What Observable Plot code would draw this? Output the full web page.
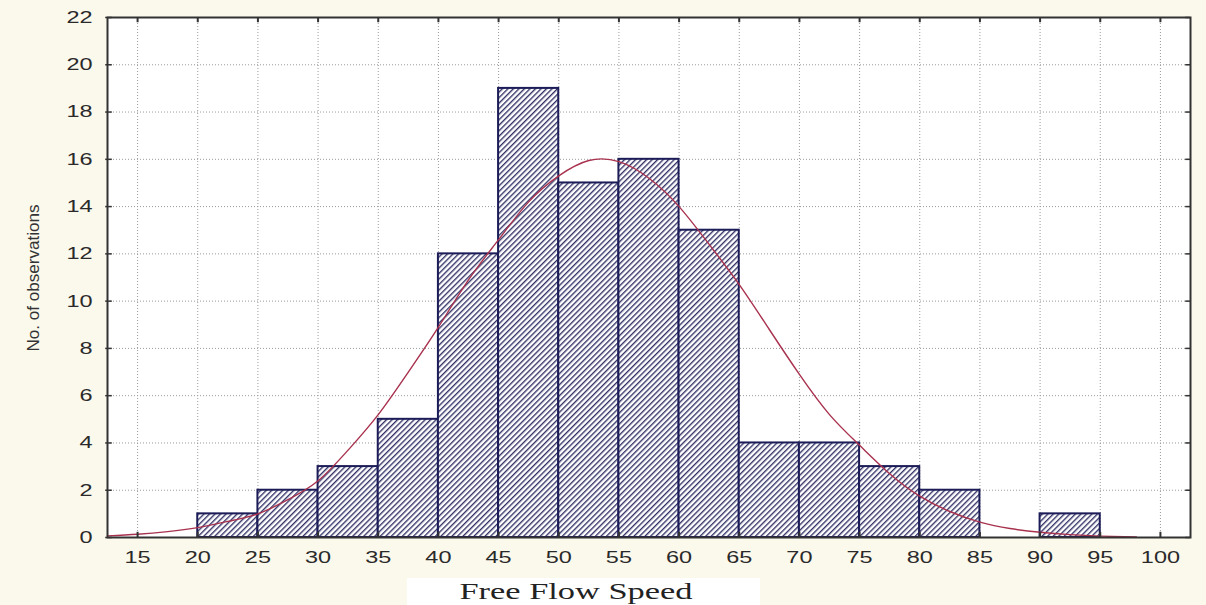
<!DOCTYPE html>
<html>
<head>
<meta charset="utf-8">
<script src="https://cdn.jsdelivr.net/npm/d3@7"></script>
<script src="https://cdn.jsdelivr.net/npm/@observablehq/plot@0.6"></script>
<style>
  html, body { margin: 0; padding: 0; background: #fbf8ec; }
  #chart svg { display: block; }
</style>
</head>
<body>
<div id="chart"></div>
<script>
// Histogram bins (lower edge) and counts
const binStart = [20, 25, 30, 35, 40, 45, 50, 55, 60, 65, 70, 75, 80, 85, 90];
const counts   = [1, 2, 3, 5, 12, 19, 15, 16, 13, 4, 4, 3, 2, 0, 1];
const binWidth = 5;

// Fitted curve
const curveX = [12.5, 15, 17.5, 20, 22.5, 25, 27.5, 30, 32.5, 35, 37.5, 40, 42.5, 45, 47.5, 50, 52.5, 55, 57.5, 60, 62.5, 65, 67.5, 70, 72.5, 75, 77.5, 80, 82.5, 85, 87.5, 90, 92.5, 95, 98];
const curveY = [0.07, 0.14, 0.25, 0.42, 0.68, 1.0, 1.6, 2.4, 3.7, 5.2, 7.0, 8.9, 10.9, 12.6, 14.2, 15.3, 15.95, 15.9, 15.2, 14.0, 12.4, 10.7, 8.8, 6.9, 5.2, 3.9, 2.7, 1.75, 1.1, 0.65, 0.38, 0.22, 0.12, 0.06, 0.02];

// Tick values
const xTicks = [15, 20, 25, 30, 35, 40, 45, 50, 55, 60, 65, 70, 75, 80, 85, 90, 95, 100];
const yTicks = [0, 2, 4, 6, 8, 10, 12, 14, 16, 18, 20, 22];

const bars = binStart.map((b, i) => ({x1: b, x2: b + binWidth, count: counts[i]}));
const curve = curveX.map((x, i) => ({x, y: curveY[i]}));

const xMin = 12.5, xMax = 102.5, yMax = 22;

const svg = Plot.plot({
  width: 1206,
  height: 605,
  marginTop: 17,
  marginBottom: 68,
  marginLeft: 107,
  marginRight: 16,
  x: {domain: [xMin, xMax]},
  y: {domain: [0, yMax]},
  style: {background: "transparent", fontFamily: "'Liberation Sans', Arial, sans-serif", fontSize: "17px", color: "#333"},
  marks: [
    Plot.frame({fill: "white", stroke: "none"}),
    Plot.gridX(xTicks, {stroke: "#9a9a9a", strokeOpacity: 1, strokeDasharray: "1,2"}),
    Plot.gridY(yTicks.slice(1, -1), {stroke: "#9a9a9a", strokeOpacity: 1, strokeDasharray: "1,2"}),
    Plot.rectY(bars.filter(d => d.count > 0), {x1: "x1", x2: "x2", y: "count", fill: "url(#hatch)", stroke: "#1c1c58", strokeWidth: 2}),
    Plot.line(curve, {x: "x", y: "y", stroke: "#a8324e", strokeWidth: 1.4, curve: "natural"}),
    // inward tick marks on bottom, top, left and right edges
    Plot.ruleX(xTicks, {x: d => d, y1: 0, y2: 0.22, stroke: "#333", strokeWidth: 2}),
    Plot.ruleX(xTicks, {x: d => d, y1: yMax - 0.22, y2: yMax, stroke: "#333", strokeWidth: 2}),
    Plot.ruleY(yTicks, {y: d => d, x1: xMin - 0.15, x2: xMin + 0.4, stroke: "#333", strokeWidth: 1.5}),
    Plot.ruleY(yTicks, {y: d => d, x1: xMax - 0.4, x2: xMax, stroke: "#333", strokeWidth: 1.5}),
    Plot.axisX(xTicks, {tickSize: 0, tickPadding: 13, fontSize: 17, label: null}),
    Plot.axisY(yTicks, {tickSize: 0, tickPadding: 15, fontSize: 17, label: null}),
    Plot.frame({stroke: "#333", strokeWidth: 2})
  ]
});

const s = d3.select(svg);

// Widen tick labels horizontally, like the reference
s.selectAll('g[aria-label$="tick label"]').attr("font-size", 17).attr("fill", "#2a2a2a");
s.selectAll('g[aria-label$="tick label"] text').each(function() {
  const t = d3.select(this);
  const tr = t.attr("transform") || "";
  t.attr("transform", tr + " scale(1.38,1)");
});

const pat = s.insert("defs", ":first-child")
  .append("pattern")
  .attr("id", "hatch")
  .attr("patternUnits", "userSpaceOnUse")
  .attr("width", 3.9)
  .attr("height", 3.9)
  .attr("patternTransform", "rotate(45)");
pat.append("rect").attr("width", 3.9).attr("height", 3.9).attr("fill", "white");
pat.append("line").attr("x1", 0.7).attr("y1", 0).attr("x2", 0.7).attr("y2", 3.9)
  .attr("stroke", "#26265e").attr("stroke-width", 1.3);

// Y axis label
s.append("text")
  .attr("transform", "translate(35,278) rotate(-90)")
  .attr("text-anchor", "middle")
  .attr("dominant-baseline", "middle")
  .attr("font-family", "'Liberation Sans Narrow', 'Liberation Sans', Arial, sans-serif")
  .attr("font-size", 17)
  .attr("fill", "#333")
  .attr("textLength", 147)
  .attr("lengthAdjust", "spacingAndGlyphs")
  .text("No. of observations");

// X axis title with white box behind
s.append("rect").attr("x", 407).attr("y", 578).attr("width", 353).attr("height", 27).attr("fill", "white");
s.append("text")
  .attr("x", 576)
  .attr("y", 599)
  .attr("text-anchor", "middle")
  .attr("font-family", "'Liberation Serif', 'Times New Roman', serif")
  .attr("font-size", 24)
  .attr("fill", "#222")
  .attr("textLength", 233)
  .attr("lengthAdjust", "spacingAndGlyphs")
  .text("Free Flow Speed");

document.getElementById("chart").appendChild(svg);
</script>
</body>
</html>
